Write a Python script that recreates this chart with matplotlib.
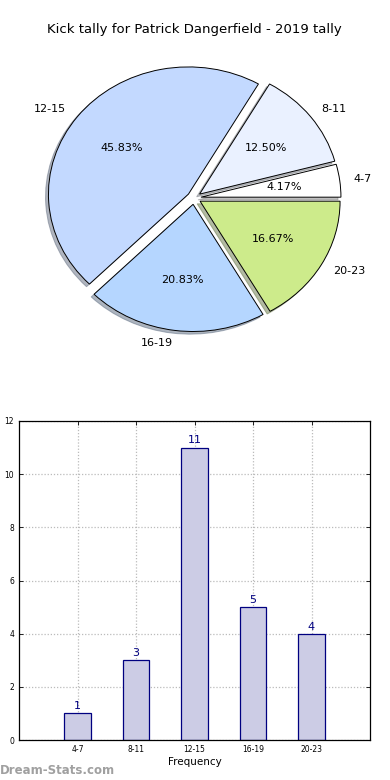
import matplotlib
matplotlib.use("Agg")
import matplotlib.pyplot as plt
import numpy as np

# kick tally buckets
categories = ["4-7", "8-11", "12-15", "16-19", "20-23"]
counts = [1, 3, 11, 5, 4]
pie_colors = ["#FFFFFF", "#EAF1FF", "#C3D9FF", "#B5D6FF", "#CDEB8B"]

title = "Kick tally for Patrick Dangerfield - 2019 tally"

fig = plt.figure(figsize=(3.9, 7.8), dpi=100)

# pie (elliptical, like old matplotlib without equal aspect)
ax1 = fig.add_axes([19 / 390, 1 - 357 / 780, 350 / 390, 318 / 780])
wedges, texts, autotexts = ax1.pie(
    counts, labels=categories, colors=pie_colors, explode=[0.05] * len(counts),
    autopct="%1.2f%%", shadow={"ox": -0.015, "oy": -0.015, "shade": 0.5}, startangle=0,
    wedgeprops=dict(edgecolor="black", linewidth=0.7),
    textprops=dict(fontsize=8))
ax1.set_aspect("auto")
ax1.set_xlim(-1.25, 1.25)
ax1.set_ylim(-1.25, 1.25)
fig.text(194 / 390, 1 - 30 / 780, title, ha="center", va="center", fontsize=9.5)

# bar chart
ax2 = fig.add_axes([19 / 390, 40 / 780, 351 / 390, 319 / 780])
x = np.arange(len(categories))
ax2.bar(x, counts, width=0.45, color="#CCCCE5", edgecolor="#000080", linewidth=0.9, zorder=2)
for xi, c in zip(x, counts):
    ax2.text(xi, c + 0.08, str(c), ha="center", va="bottom", color="#000080", fontsize=8)
ax2.set_xlim(-1, 5)
ax2.set_ylim(0, 12)
ax2.set_xticks(x)
ax2.set_xticklabels(categories)
ax2.set_yticks(np.arange(0, 13, 2))
ax2.tick_params(direction="in", top=True, right=True, labelsize=5.5, length=3, width=0.6)
ax2.grid(True, linestyle=(0, (1, 1.5)), color="#BBBBBB", linewidth=0.9, zorder=0)
ax2.set_xlabel("Frequency", fontsize=7.5, labelpad=2)
ax2.set_ylabel("Occurrences", fontsize=7.5)
for s in ax2.spines.values():
    s.set_linewidth(0.9)

fig.text(0.0, 1 - 770 / 780, "Dream-Stats.com", ha="left", va="center",
         fontsize=8.5, fontweight="bold", color="#A0A0A0")

fig.savefig("out.png", dpi=100)
